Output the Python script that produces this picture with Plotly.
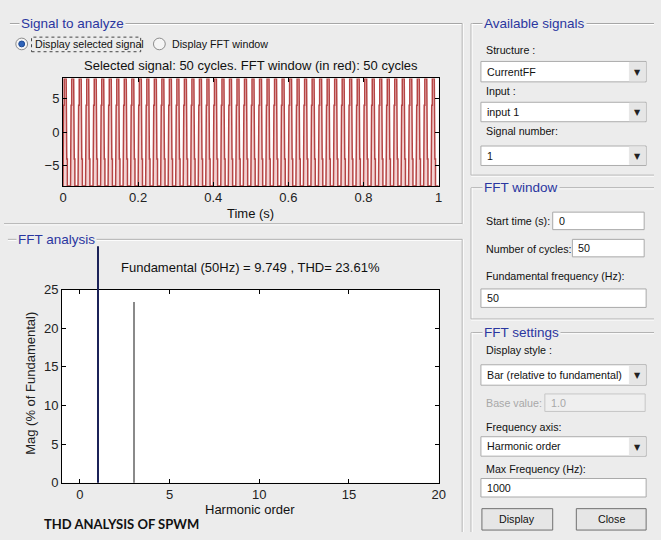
import numpy as np
import plotly.graph_objects as go

# ---------------- data ----------------
# Signal: one cycle of the analysed waveform (phase as fraction of a cycle, value)
cycle_phase = [0.00, 0.00, 0.08, 0.08, 0.16, 0.16, 0.42, 0.42, 0.50, 0.50, 0.58, 0.58]
cycle_value = [-8, -4, -4, 4, 4, 8, 8, 4, 4, -4, -4, -8]
n_cycles = 50
fundamental_hz = 50

time_ticks = [0, 0.2, 0.4, 0.6, 0.8, 1]
time_tick_text = ["0", "0.2", "0.4", "0.6", "0.8", "1"]
signal_ticks = [-5, 0, 5]

# FFT bars (% of fundamental)
harmonic_order = list(range(0, 21))
harmonic_mag = [0, 100, 0, 23.5, 0, 0, 0, 0, 0, 0, 0, 0, 0, 0, 0, 0, 0, 0, 0, 0, 0]
harmonic_ticks = [0, 5, 10, 15, 20]
mag_ticks = [0, 5, 10, 15, 20, 25]

title_signal = "Selected signal: 50 cycles. FFT window (in red): 50 cycles"
title_fft = "Fundamental (50Hz) = 9.749 , THD= 23.61%"

# ---------------- build waveform ----------------
t_sig, v_sig = [], []
for k in range(n_cycles):
    for p, v in zip(cycle_phase, cycle_value):
        t_sig.append((k + p) / fundamental_hz)
        v_sig.append(v)
t_sig.append(n_cycles / fundamental_hz)
v_sig.append(cycle_value[-1])

fund_x = [h for h in harmonic_order if h == 1]
fund_y = [m for h, m in zip(harmonic_order, harmonic_mag) if h == 1]
harm_x = [h for h in harmonic_order if h != 1]
harm_y = [m for h, m in zip(harmonic_order, harmonic_mag) if h != 1]

# ---------------- geometry helpers ----------------
W, H = 661, 540
BG = "#ececec"
PANEL_BLUE = "#2a36a0"
FONT = "Liberation Sans"
GUI = 10.7


def px(x):
    return x / W


def py(y):
    return 1 - y / H


fig = go.Figure()

# signal trace
fig.add_trace(go.Scatter(x=t_sig, y=v_sig, mode="lines", fill="toself", fillcolor="#f2d2d2",
                         line=dict(color="#b54444", width=1.5),
                         xaxis="x", yaxis="y", hoverinfo="skip", showlegend=False))

# harmonic bars on visible FFT axis
fig.add_trace(go.Bar(x=harm_x, y=harm_y, marker=dict(color="#8a8a8a", line=dict(width=0)),
                     width=0.065, xaxis="x2", yaxis="y2", hoverinfo="skip", showlegend=False))
# fundamental bar on a taller hidden axis with the same scale (drawn beyond the box, as in the GUI)
fig.add_trace(go.Bar(x=fund_x, y=fund_y, marker=dict(color="#1b2258", line=dict(width=0)),
                     width=0.15, xaxis="x3", yaxis="y3", hoverinfo="skip", showlegend=False))

# axis pixel geometry
SIG_L, SIG_R, SIG_T, SIG_B = 60, 442, 73.5, 184
FFT_L, FFT_R, FFT_T, FFT_B = 59, 442, 290.8, 489.3
FFT_CLIP_T = 246
fft_top_val = 25 * (FFT_B - FFT_CLIP_T) / (FFT_B - FFT_T)

axis_common = dict(showline=True, linecolor="black", linewidth=1, mirror="ticks",
                   ticks="inside", ticklen=4, tickcolor="black", showgrid=False,
                   zeroline=False, tickfont=dict(family=FONT, size=13, color="#222"))

fig.update_layout(
    width=W, height=H, margin=dict(l=0, r=0, t=0, b=0),
    paper_bgcolor=BG, plot_bgcolor="rgba(0,0,0,0)",
    xaxis=dict(domain=[px(SIG_L), px(SIG_R)], range=[0, 1], anchor="y",
               tickvals=time_ticks, ticktext=time_tick_text, **axis_common),
    yaxis=dict(domain=[py(SIG_B), py(SIG_T)], range=[-8, 8], anchor="x",
               tickvals=signal_ticks, **axis_common),
    xaxis2=dict(domain=[px(FFT_L), px(FFT_R)], range=[-1, 20], anchor="y2",
                tickvals=harmonic_ticks, **axis_common),
    yaxis2=dict(domain=[py(FFT_B), py(FFT_T)], range=[0, 25], anchor="x2",
                tickvals=mag_ticks, **axis_common),
    xaxis3=dict(domain=[px(FFT_L), px(FFT_R)], range=[-1, 20], anchor="y3", visible=False),
    yaxis3=dict(domain=[py(FFT_B), py(FFT_CLIP_T)], range=[0, fft_top_val], anchor="x3", visible=False),
    bargap=0,
)

shapes = []
annotations = []

# white plot backgrounds
for (l, r, t, b) in [(SIG_L, SIG_R, SIG_T, SIG_B), (FFT_L, FFT_R, FFT_T, FFT_B)]:
    shapes.append(dict(type="rect", xref="paper", yref="paper", x0=px(l), x1=px(r), y0=py(b), y1=py(t),
                       fillcolor="white", line=dict(width=0), layer="below"))


def hline(x0, x1, y):
    shapes.append(dict(type="line", xref="paper", yref="paper", x0=px(x0), x1=px(x1), y0=py(y), y1=py(y),
                       line=dict(color="#a5a5a5", width=1)))
    shapes.append(dict(type="line", xref="paper", yref="paper", x0=px(x0), x1=px(x1), y0=py(y + 1), y1=py(y + 1),
                       line=dict(color="#ffffff", width=1)))


def vline(x, y0, y1):
    shapes.append(dict(type="line", xref="paper", yref="paper", x0=px(x), x1=px(x), y0=py(y0), y1=py(y1),
                       line=dict(color="#a5a5a5", width=1)))
    shapes.append(dict(type="line", xref="paper", yref="paper", x0=px(x + 1), x1=px(x + 1), y0=py(y0), y1=py(y1),
                       line=dict(color="#ffffff", width=1)))


def rect(x0, y0, x1, y1, fill="white", border="#a9a9a9", width=1):
    shapes.append(dict(type="rect", xref="paper", yref="paper", x0=px(x0), x1=px(x1), y0=py(y1), y1=py(y0),
                       fillcolor=fill, line=dict(color=border, width=width)))


def text(x, y, s, size=GUI, color="#111", anchor="left", family=FONT, bg=None, bold=False):
    if bold:
        s = "<b>" + s + "</b>"
    d = dict(x=px(x), y=py(y), xref="paper", yref="paper", text=s, showarrow=False,
             xanchor=anchor, yanchor="middle", font=dict(family=family, size=size, color=color))
    if bg:
        d["bgcolor"] = bg
        d["borderpad"] = 1
    annotations.append(d)


# ---- left panels ----
hline(6, 466, 17)
vline(466, 17, 223)
hline(0, 466, 223)
text(15, 17, "Signal to analyze", size=13.5, color=PANEL_BLUE, bg=BG)

hline(4, 466, 239)
vline(466, 239, 540)
text(12, 239, "FFT analysis", size=13.5, color=PANEL_BLUE, bg=BG)

# radio buttons
shapes.append(dict(type="circle", xref="paper", yref="paper", x0=px(12), x1=px(24), y0=py(44), y1=py(32),
                   fillcolor="#f5f5f5", line=dict(color="#8c8c8c", width=1)))
shapes.append(dict(type="circle", xref="paper", yref="paper", x0=px(15), x1=px(21), y0=py(41), y1=py(35),
                   fillcolor="#2f63b8", line=dict(color="#1d4a96", width=1)))
shapes.append(dict(type="circle", xref="paper", yref="paper", x0=px(152), x1=px(164), y0=py(44), y1=py(32),
                   fillcolor="#f5f5f5", line=dict(color="#8c8c8c", width=1)))
shapes.append(dict(type="rect", xref="paper", yref="paper", x0=px(28), x1=px(139), y0=py(46), y1=py(31),
                   line=dict(color="#444", width=1, dash="dot")))
text(29, 38.5, "Display selected signal")
text(169, 38.5, "Display FFT window")

# plot titles / labels
text((SIG_L + SIG_R) / 2, 60, title_signal, size=13, anchor="center")
text((SIG_L + SIG_R) / 2, 212, "Time (s)", size=13, anchor="center")
text((FFT_L + FFT_R) / 2, 268, title_fft, size=13, anchor="center")
text((FFT_L + FFT_R) / 2, 517, "Harmonic order", size=13, anchor="center")
annotations.append(dict(x=px(27), y=py(387), xref="paper", yref="paper", text="Mag (% of Fundamental)",
                        showarrow=False, textangle=-90, xanchor="center", yanchor="middle",
                        font=dict(family=FONT, size=13, color="#222")))
text(39, 532, "THD ANALYSIS OF SPWM", size=13, color="#111", family="Lato", bold=True)

# ---- right panels ----
RL = 475
# Available signals
hline(RL, 661, 17)
vline(RL, 17, 173)
hline(RL, 661, 173)
text(486, 17, "Available signals", size=13.5, color=PANEL_BLUE, bg=BG)


def dropdown(y0, y1, label):
    rect(485, y0, 653, y1, fill="white", border="#acacac")
    rect(636, y0 + 1, 652, y1 - 1, fill="#e6e6e6", border="#e6e6e6")
    text(644, (y0 + y1) / 2 + 1, "▼", size=8, color="#222", anchor="center", family="DejaVu Sans")
    text(489, (y0 + y1) / 2, label)


text(488, 44, "Structure :")
dropdown(56, 77, "CurrentFF")
text(488, 86, "Input :")
dropdown(98, 118, "input 1")
text(488, 128, "Signal number:")
dropdown(143, 163, "1")

# FFT window
hline(RL, 661, 186)
vline(RL, 186, 321)
hline(RL, 661, 321)
text(486, 186, "FFT window", size=13.5, color=PANEL_BLUE, bg=BG)
text(488, 220, "Start time (s):")
rect(558, 211, 651, 229)
text(562, 220, "0")
text(488, 249, "Number of cycles:")
rect(578, 239, 651, 257)
text(582, 248, "50")
text(488, 277, "Fundamental frequency (Hz):")
rect(485, 290, 653, 309)
text(489, 299.5, "50")

# FFT settings
hline(RL, 661, 335)
vline(RL, 335, 540)
text(486, 335, "FFT settings", size=13.5, color=PANEL_BLUE, bg=BG)
text(488, 353, "Display style :")
dropdown(368, 389, "Bar (relative to fundamental)")
text(488, 407, "Base value:", color="#a8a8a8")
rect(550, 398, 652, 416, fill="#efefef", border="#c6c6c6")
text(554, 407, "1.0", color="#a8a8a8")
text(488, 432, "Frequency axis:")
dropdown(442, 462, "Harmonic order")
text(488, 475, "Max Frequency (Hz):")
rect(485, 485, 653, 504)
text(489, 494.5, "1000")

# buttons
rect(486, 516, 558, 538, fill="#e6e6e6", border="#707070")
text(522, 527, "Display", anchor="center")
rect(582, 516, 653, 538, fill="#e6e6e6", border="#707070")
text(617.5, 527, "Close", anchor="center")

fig.update_layout(shapes=shapes, annotations=annotations)
fig.write_html("out.html")
